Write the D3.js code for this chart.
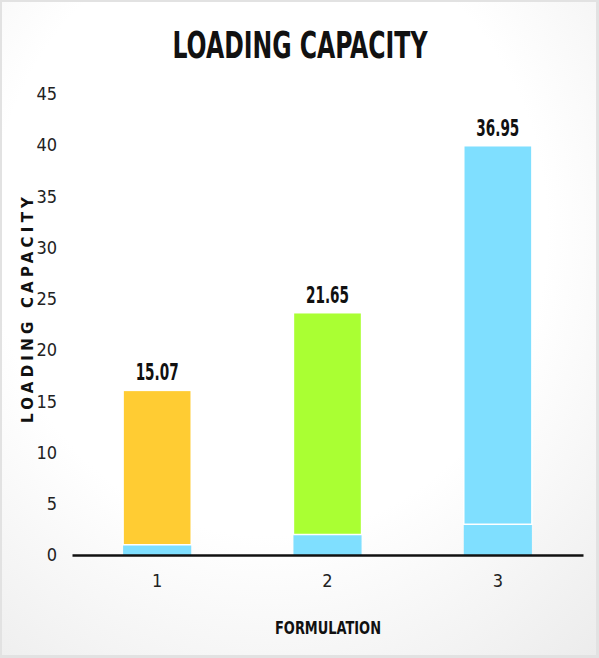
<!DOCTYPE html>
<html>
<head>
<meta charset="utf-8">
<script src="https://cdn.jsdelivr.net/npm/d3@7"></script>
<style>
  body { margin: 0; background: #fff; }
</style>
</head>
<body>
<div id="chart"></div>
<script>
// stacked bars: a small blue base with the loading capacity on top
var formulations = ['1', '2', '3'];
var baseValues = [1, 2, 3];
var capacityValues = [15.07, 21.65, 36.95];
var capacityColors = ['#ffcc33', '#aaff33', '#7fdfff'];
var yTicks = [0, 5, 10, 15, 20, 25, 30, 35, 40, 45];

var width = 599, height = 658;
var margin = {top: 94, left: 72, right: 16, bottom: 103};
var narrow = '"DejaVu Sans Condensed", "Liberation Sans Narrow", sans-serif';

var svg = d3.select('#chart')
  .append('svg')
  .attr('width', width)
  .attr('height', height);

// soft frame behind the chart
var defs = svg.append('defs');
var grad = defs.append('radialGradient')
  .attr('id', 'bg')
  .attr('cx', '45%').attr('cy', '35%').attr('r', '85%');
grad.append('stop').attr('offset', '55%').attr('stop-color', '#ffffff');
grad.append('stop').attr('offset', '100%').attr('stop-color', '#ececec');

svg.append('rect')
  .attr('x', 0).attr('y', 0)
  .attr('width', width).attr('height', height)
  .attr('fill', '#e2e2e2');
svg.append('rect')
  .attr('x', 2).attr('y', 2)
  .attr('width', width - 5).attr('height', height - 5)
  .attr('fill', 'url(#bg)');

var x = d3.scaleBand()
  .domain(formulations)
  .range([margin.left, width - margin.right])
  .paddingInner(0.6)
  .paddingOuter(0.3);

var y = d3.scaleLinear()
  .domain([0, 45])
  .range([height - margin.bottom, margin.top]);

var data = formulations.map(function(f, i) {
  return {name: f, base: baseValues[i], value: capacityValues[i], color: capacityColors[i]};
});

// y tick labels only, no axis line
var yAxis = svg.append('g')
  .attr('transform', 'translate(' + margin.left + ',0)')
  .call(d3.axisLeft(y).tickValues(yTicks).tickSize(0).tickPadding(15));
yAxis.select('.domain').remove();
yAxis.selectAll('text')
  .attr('font-family', narrow)
  .attr('font-size', '18px')
  .attr('fill', '#222');

// base segment
svg.selectAll('rect.base')
  .data(data)
  .enter()
  .append('rect')
  .attr('class', 'base')
  .attr('x', function(d) { return x(d.name); })
  .attr('width', x.bandwidth())
  .attr('y', function(d) { return y(d.base); })
  .attr('height', function(d) { return y(0) - y(d.base); })
  .attr('fill', '#7fdfff');

// capacity segment
svg.selectAll('rect.capacity')
  .data(data)
  .enter()
  .append('rect')
  .attr('class', 'capacity')
  .attr('x', function(d) { return x(d.name); })
  .attr('width', x.bandwidth())
  .attr('y', function(d) { return y(d.base + d.value); })
  .attr('height', function(d) { return y(d.base) - y(d.base + d.value); })
  .attr('fill', function(d) { return d.color; })
  .attr('stroke', '#fff')
  .attr('stroke-width', 1.5);

// value labels above the bars
svg.selectAll('text.value')
  .data(data)
  .enter()
  .append('text')
  .attr('class', 'value')
  .attr('x', function(d) { return x(d.name) + x.bandwidth() / 2; })
  .attr('y', function(d) { return y(d.base + d.value) - 10; })
  .attr('text-anchor', 'middle')
  .attr('font-family', narrow)
  .attr('font-weight', 'bold')
  .attr('font-size', '23px')
  .attr('textLength', 43)
  .attr('lengthAdjust', 'spacingAndGlyphs')
  .attr('fill', '#111')
  .text(function(d) { return d.value.toFixed(2); });

// x axis line and labels
var xAxis = svg.append('g')
  .attr('transform', 'translate(0,' + y(0) + ')')
  .call(d3.axisBottom(x).tickSize(0).tickPadding(19).tickSizeOuter(0));
xAxis.select('.domain')
  .attr('stroke', '#111')
  .attr('stroke-width', 2.5);
xAxis.selectAll('text')
  .attr('font-family', narrow)
  .attr('font-size', '18px')
  .attr('fill', '#222');

// titles
svg.append('text')
  .attr('x', 300)
  .attr('y', 58)
  .attr('text-anchor', 'middle')
  .attr('font-family', narrow)
  .attr('font-weight', 'bold')
  .attr('font-size', '37px')
  .attr('textLength', 255)
  .attr('lengthAdjust', 'spacingAndGlyphs')
  .attr('fill', '#111')
  .text('LOADING CAPACITY');

svg.append('text')
  .attr('x', 328)
  .attr('y', 634)
  .attr('text-anchor', 'middle')
  .attr('font-family', narrow)
  .attr('font-weight', 'bold')
  .attr('font-size', '17px')
  .attr('textLength', 106)
  .attr('lengthAdjust', 'spacingAndGlyphs')
  .attr('fill', '#111')
  .text('FORMULATION');

svg.append('text')
  .attr('transform', 'translate(33,310) rotate(-90)')
  .attr('text-anchor', 'middle')
  .attr('font-family', '"DejaVu Sans", sans-serif')
  .attr('font-weight', 'bold')
  .attr('font-size', '15px')
  .attr('textLength', 226)
  .attr('lengthAdjust', 'spacing')
  .attr('fill', '#111')
  .text('LOADING CAPACITY');
</script>
</body>
</html>
